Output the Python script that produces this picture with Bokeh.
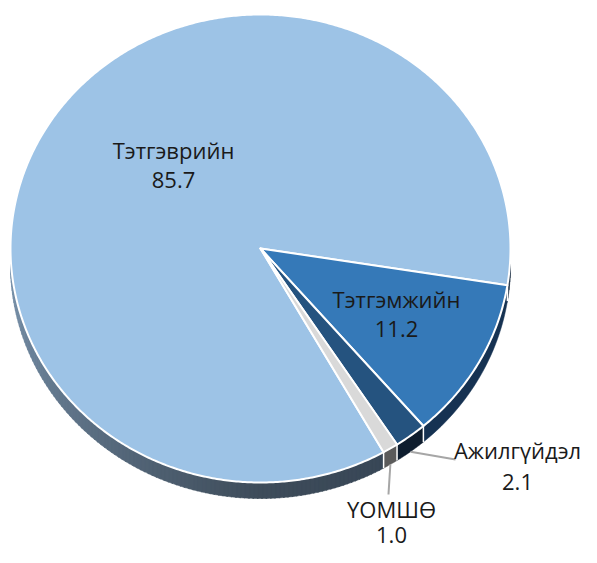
import numpy as np
from bokeh.plotting import figure
from bokeh.models import Range1d, ColumnDataSource
from bokeh.core.properties import value
from bokeh.embed import file_html
from bokeh.resources import INLINE

# ---- data ----
categories = ["Тэтгэврийн", "Тэтгэмжийн", "Ажилгүйдэл", "ҮОМШӨ"]
values = [85.7, 11.2, 2.1, 1.0]
value_labels = ["85.7", "11.2", "2.1", "1.0"]

# ---- styling / layout ----
top_colors = ["#9dc3e6", "#3579b8", "#25537f", "#d9d9d9"]
side_colors = [None, "#163252", "#0e1d2e", "#5b5b5b"]
CX, CY, RX, RY, DEPTH = 260.0, 248.0, 250.0, 234.0, 16.0
START = 60.5  # degrees, clockwise from 3 o'clock (screen, y down)
label_pos = [(173, 164), (396, 313), (517, 465), (391, 521)]
label_gaps = [15, 15, 16, 13]
leader_end = [None, None, (455, 459), (388, 494)]

W, H = 581, 547
p = figure(width=W, height=H, output_backend="svg", toolbar_location=None,
           x_range=Range1d(0, W), y_range=Range1d(H, 0),
           min_border=0, outline_line_color=None)
p.axis.visible = False
p.grid.visible = False
p.background_fill_color = "white"
p.border_fill_color = "white"


def ex(t):
    return CX + RX * np.cos(np.radians(t))


def ey(t):
    return CY + RY * np.sin(np.radians(t))


total = sum(values)
spans = [v / total * 360.0 for v in values]
starts = [START + sum(spans[:i]) for i in range(len(spans))]
ends = [s + sp for s, sp in zip(starts, spans)]


def visible_parts(a0, a1):
    parts = []
    for k in (-360, 0, 360):
        lo, hi = max(a0, k), min(a1, k + 180)
        if hi > lo:
            parts.append((lo, hi))
    return parts


def hex2rgb(h):
    h = h.lstrip("#")
    return np.array([int(h[i:i + 2], 16) for i in (0, 2, 4)], dtype=float)


def rgb2hex(c):
    return "#%02x%02x%02x" % tuple(int(round(x)) for x in c)


c_left, c_front, c_right = hex2rgb("#7a94ae"), hex2rgb("#3e4c5a"), hex2rgb("#2c3d50")


def big_side_color(t):
    t = t % 360
    if t >= 90:
        f = (t - 90) / 90.0
        return rgb2hex(c_front * (1 - f) + c_left * f)
    f = t / 90.0
    return rgb2hex(c_right * (1 - f) + c_front * f)


# ---- side faces ----
side_xs, side_ys, side_fill = [], [], []
for i in range(len(values)):
    for lo, hi in visible_parts(starts[i], ends[i]):
        if i == 0:
            steps = np.arange(lo, hi, 1.0).tolist() + [hi]
            for a, b in zip(steps[:-1], steps[1:]):
                t = np.linspace(a, b + 0.3 if b < hi else b, 4)
                side_xs.append(list(ex(t)) + list(ex(t[::-1])))
                side_ys.append(list(ey(t)) + list(ey(t[::-1]) + DEPTH))
                side_fill.append(big_side_color((a + b) / 2))
        else:
            t = np.linspace(lo, hi, 30)
            side_xs.append(list(ex(t)) + list(ex(t[::-1])))
            side_ys.append(list(ey(t)) + list(ey(t[::-1]) + DEPTH))
            side_fill.append(side_colors[i])

p.patches(side_xs, side_ys, fill_color=side_fill, line_color=side_fill, line_width=0.5)

# white separators on the sides
sep_x0, sep_y0, sep_x1, sep_y1 = [], [], [], []
for a in starts:
    am = a % 360
    if 0 < am < 180:
        sep_x0.append(ex(am)); sep_y0.append(ey(am))
        sep_x1.append(ex(am)); sep_y1.append(ey(am) + DEPTH)
p.segment(sep_x0, sep_y0, sep_x1, sep_y1, line_color="white", line_width=1.5)

# ---- top faces ----
top_xs, top_ys = [], []
for s, e in zip(starts, ends):
    n = max(int((e - s) * 2), 6)
    t = np.linspace(s, e, n)
    top_xs.append([CX] + list(ex(t)))
    top_ys.append([CY] + list(ey(t)))
p.patches(top_xs, top_ys, fill_color=top_colors, line_color="white", line_width=2,
          line_join="round")

# ---- leader lines ----
for i in range(len(values)):
    if leader_end[i] is None:
        continue
    mid = (starts[i] + ends[i]) / 2
    x0, y0 = ex(mid), ey(mid) + DEPTH
    x1, y1 = leader_end[i]
    p.line([x0, x1], [y0, y1], line_color="#a6a6a6", line_width=2)

# ---- labels ----
lx, ly, lt = [], [], []
for i in range(len(values)):
    x, y = label_pos[i]
    g = label_gaps[i]
    lx += [x, x]
    ly += [y - g, y + g]
    lt += [categories[i], value_labels[i]]
src = ColumnDataSource(dict(x=lx, y=ly, t=lt))
p.text(x="x", y="y", text="t", source=src, text_font=value("Open Sans"),
       text_font_size="22px", text_color="#1a1a1a", text_align="center",
       text_baseline="middle")

open("out.html", "w").write(file_html(p, INLINE))
